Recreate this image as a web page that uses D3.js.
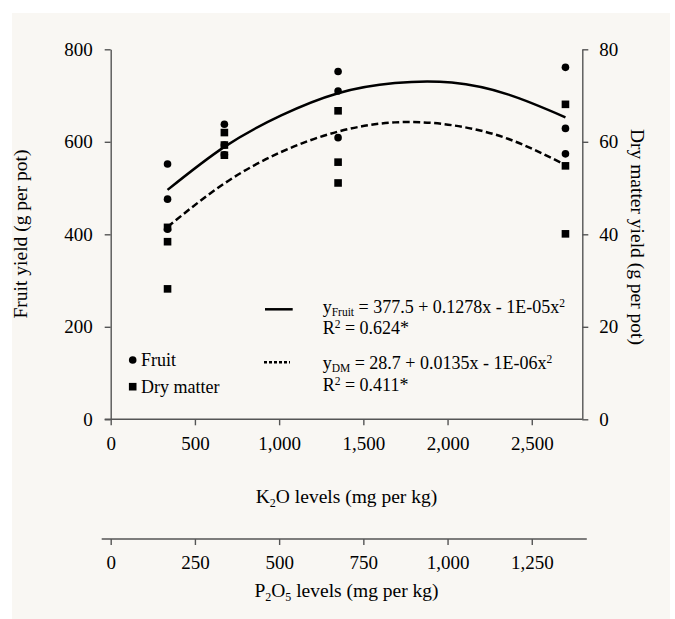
<!DOCTYPE html>
<html>
<head>
<meta charset="utf-8">
<script src="https://cdn.jsdelivr.net/npm/d3@7"></script>
<style>
  html, body { margin: 0; padding: 0; background: #fff; }
  svg { display: block; }
  text { font-family: "Liberation Serif", "Times New Roman", serif; fill: #000; }
</style>
</head>
<body>
<svg id="chart"></svg>
<script>
const k2oLevels = [337.5, 675, 1350, 2700];
const fruitYield = [[552, 476, 411], [638, 593, 572], [752, 710, 609], [761, 629, 574]];
const dryMatter = [[41.5, 38.4, 28.2], [62.0, 59.3, 57.1], [66.7, 55.6, 51.1], [68.1, 54.8, 40.1]];

// fitted curves
const fitX = [337.5, 675, 1012.5, 1350, 1687.5, 2025, 2362.5, 2700];
const fruitFit = [496, 589, 657, 705, 727, 728, 702, 653];
const dmFit = [41.6, 51.0, 57.8, 62.2, 64.2, 63.6, 60.6, 55.0];

const k2oTicks = [0, 500, 1000, 1500, 2000, 2500];
const p2o5Ticks = [0, 250, 500, 750, 1000, 1250];
const fruitTicks = [0, 200, 400, 600, 800];
const dmTicks = [0, 20, 40, 60, 80];

const W = 675, H = 619;
const FONT = "'Liberation Serif', 'Times New Roman', serif";
const svg = d3.select("#chart").attr("width", W).attr("height", H)
  .attr("font-family", FONT);

// panel background
svg.append("rect")
  .attr("x", 12).attr("y", 13).attr("width", 658).attr("height", 606)
  .attr("fill", "#f9f7f3");

const pLeft = 110.7, pRight = 582.3, pTop = 49.3, pBottom = 419.3;

const x = d3.scaleLinear().domain([0, 2800]).range([pLeft, pRight]);
const xP = d3.scaleLinear().domain([0, 1400]).range([pLeft, pRight]);
const yF = d3.scaleLinear().domain([0, 800]).range([pBottom, pTop]);
const yD = d3.scaleLinear().domain([0, 80]).range([pBottom, pTop]);

const axisColor = "#555";
function styleAxis(g) {
  g.attr("font-family", FONT).attr("font-size", 19);
  g.selectAll("path, line").attr("stroke", axisColor).attr("stroke-width", 1.4);
  g.selectAll("text").attr("fill", "#000");
}

// left axis
const gL = svg.append("g").attr("transform", `translate(${pLeft},0)`)
  .call(d3.axisLeft(yF).tickValues(fruitTicks).tickSize(6).tickSizeOuter(0).tickPadding(12).tickFormat(d3.format("d")));
styleAxis(gL);

// right axis
const gR = svg.append("g").attr("transform", `translate(${pRight},0)`)
  .call(d3.axisRight(yD).tickValues(dmTicks).tickSize(6).tickSizeOuter(0).tickPadding(11).tickFormat(d3.format("d")));
styleAxis(gR);

// K2O axis
const gX = svg.append("g").attr("transform", `translate(0,${pBottom})`)
  .call(d3.axisBottom(x).tickValues(k2oTicks).tickSize(6).tickSizeOuter(0).tickPadding(11).tickFormat(d3.format(",")));
styleAxis(gX);
gX.select(".domain").attr("d", `M${pLeft - 6},0H${pRight}`);

// P2O5 axis
const pY = 539;
const gP = svg.append("g").attr("transform", `translate(0,${pY})`)
  .call(d3.axisBottom(xP).tickValues(p2o5Ticks).tickSize(6).tickSizeOuter(0).tickPadding(11).tickFormat(d3.format(",")));
styleAxis(gP);
gP.select(".domain").attr("d", `M${pLeft - 9},0H${pRight + 4.5}`);

// axis titles
const k2oTitle = svg.append("text").attr("x", (pLeft + pRight) / 2).attr("y", 503)
  .attr("text-anchor", "middle").attr("font-size", 19.5);
k2oTitle.append("tspan").text("K");
k2oTitle.append("tspan").text("2").attr("font-size", 12).attr("dy", 4);
k2oTitle.append("tspan").text("O levels (mg per kg)").attr("dy", -4);

const p2o5Title = svg.append("text").attr("x", (pLeft + pRight) / 2).attr("y", 597)
  .attr("text-anchor", "middle").attr("font-size", 19.5);
p2o5Title.append("tspan").text("P");
p2o5Title.append("tspan").text("2").attr("font-size", 12).attr("dy", 4);
p2o5Title.append("tspan").text("O").attr("dy", -4);
p2o5Title.append("tspan").text("5").attr("font-size", 12).attr("dy", 4);
p2o5Title.append("tspan").text(" levels (mg per kg)").attr("dy", -4);

svg.append("text").attr("transform", "translate(27,234) rotate(-90)")
  .attr("text-anchor", "middle").attr("font-size", 19.5)
  .text("Fruit yield (g per pot)");

svg.append("text").attr("transform", "translate(631,237) rotate(90)")
  .attr("text-anchor", "middle").attr("font-size", 19.5)
  .text("Dry matter yield (g per pot)");

// fitted curves
const fruitLine = d3.line().x(d => x(d[0])).y(d => yF(d[1])).curve(d3.curveNatural);
const dmLine = d3.line().x(d => x(d[0])).y(d => yD(d[1])).curve(d3.curveNatural);

svg.append("path").datum(fitX.map((v, i) => [v, fruitFit[i]]))
  .attr("d", fruitLine).attr("fill", "none").attr("stroke", "#000").attr("stroke-width", 2.5);
svg.append("path").datum(fitX.map((v, i) => [v, dmFit[i]]))
  .attr("d", dmLine).attr("fill", "none").attr("stroke", "#000").attr("stroke-width", 2.5)
  .attr("stroke-dasharray", "7,3.5");

// points
const fruitPts = k2oLevels.flatMap((lv, i) => fruitYield[i].map(v => [lv, v]));
const dmPts = k2oLevels.flatMap((lv, i) => dryMatter[i].map(v => [lv, v]));

svg.append("g").selectAll("circle").data(fruitPts).join("circle")
  .attr("cx", d => x(d[0])).attr("cy", d => yF(d[1])).attr("r", 3.8).attr("fill", "#000");
svg.append("g").selectAll("rect").data(dmPts).join("rect")
  .attr("x", d => x(d[0]) - 3.8).attr("y", d => yD(d[1]) - 3.8)
  .attr("width", 7.6).attr("height", 7.6).attr("fill", "#000");

// legend
const legend = svg.append("g");
legend.append("circle").attr("cx", 132.7).attr("cy", 360).attr("r", 3.8).attr("fill", "#000");
legend.append("text").attr("x", 141).attr("y", 366).attr("font-size", 18).text("Fruit");
legend.append("rect").attr("x", 128.9).attr("y", 382.9).attr("width", 7.6).attr("height", 7.6).attr("fill", "#000");
legend.append("text").attr("x", 141).attr("y", 393).attr("font-size", 18).text("Dry matter");

legend.append("line").attr("x1", 265).attr("x2", 292.7).attr("y1", 309.3).attr("y2", 309.3)
  .attr("stroke", "#000").attr("stroke-width", 2.5);
legend.append("line").attr("x1", 264).attr("x2", 290).attr("y1", 362.3).attr("y2", 362.3)
  .attr("stroke", "#000").attr("stroke-width", 2.5).attr("stroke-dasharray", "3,2");

function equation(yPos, sub, rest) {
  const t = legend.append("text").attr("x", 322.7).attr("y", yPos).attr("font-size", 18);
  t.append("tspan").text("y");
  t.append("tspan").text(sub).attr("font-size", 11.5).attr("dy", 2.5);
  t.append("tspan").text(rest).attr("dy", -2.5);
  t.append("tspan").text("2").attr("font-size", 11.5).attr("dy", -6);
}
function r2(yPos, val) {
  const t = legend.append("text").attr("x", 322.7).attr("y", yPos).attr("font-size", 18);
  t.append("tspan").text("R");
  t.append("tspan").text("2").attr("font-size", 11.5).attr("dy", -6);
  t.append("tspan").text(" = " + val).attr("dy", 6);
}
equation(313, "Fruit", " = 377.5 + 0.1278x - 1E-05x");
r2(333.5, "0.624*");
equation(369, "DM", " = 28.7 + 0.0135x - 1E-06x");
r2(391, "0.411*");
</script>
</body>
</html>
